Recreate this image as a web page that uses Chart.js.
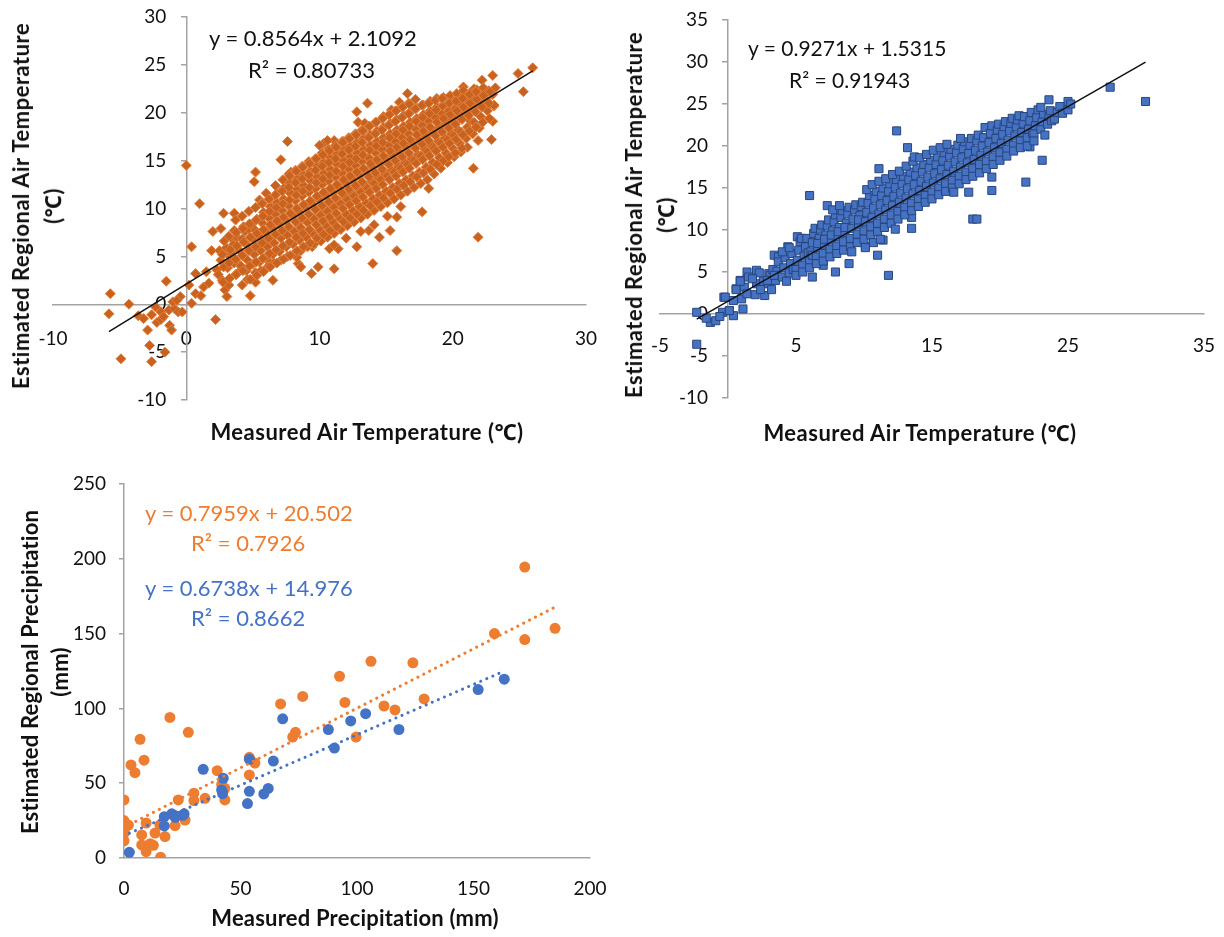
<!DOCTYPE html>
<html>
<head>
<meta charset="utf-8">
<script src="https://cdn.jsdelivr.net/npm/chart.js@4.4.1/dist/chart.umd.min.js"></script>
<style>
  body { margin: 0; background: #fff; }
  #wrap { position: relative; width: 1224px; height: 937px; overflow: hidden; font-family: Lato, 'Noto Sans', sans-serif; color: #111; }
  canvas { position: absolute; }
  .t { position: absolute; white-space: nowrap; line-height: 1; }
  .ax { font-weight: bold; font-size: 22px; letter-spacing: 0.5px; transform: translate(-50%, -50%); }
  .rot { transform: translate(-50%, -50%) rotate(-90deg); }
  .eq { font-size: 22px; transform: translateY(-50%); }
  .eq.b { font-size: 21px; }
  .small { letter-spacing: 0.2px; }
  .orange { color: #ED7D31; }
  .blue { color: #4472C4; }
</style>
</head>
<body>
<div id="wrap">
  <canvas id="chartA" width="610" height="450" style="left:0;top:0"></canvas>
  <canvas id="chartB" width="614" height="450" style="left:610px;top:0"></canvas>
  <canvas id="chartC" width="610" height="477" style="left:0;top:460px"></canvas>

  <div class="t ax rot" style="left:21px;top:206px">Estimated Regional Air Temperature</div>
  <div class="t ax rot" style="left:53px;top:206px">(℃)</div>
  <div class="t ax" style="left:367px;top:432px">Measured Air Temperature (℃)</div>
  <div class="t eq" style="left:209px;top:38px">y = 0.8564x + 2.1092</div>
  <div class="t eq" style="left:248px;top:70px">R² = 0.80733</div>

  <div class="t ax rot" style="left:634px;top:215px">Estimated Regional Air Temperature</div>
  <div class="t ax rot" style="left:666px;top:215px">(℃)</div>
  <div class="t ax" style="left:920px;top:433px">Measured Air Temperature (℃)</div>
  <div class="t eq b" style="left:748px;top:47px">y = 0.9271x + 1.5315</div>
  <div class="t eq b" style="left:789px;top:79px">R² = 0.91943</div>

  <div class="t ax rot small" style="left:30px;top:672px">Estimated Regional Precipitation</div>
  <div class="t ax rot small" style="left:60px;top:672px">(mm)</div>
  <div class="t ax small" style="left:355px;top:918px">Measured Precipitation (mm)</div>
  <div class="t eq orange" style="left:145px;top:513px">y = 0.7959x + 20.502</div>
  <div class="t eq orange" style="left:191px;top:543px">R² = 0.7926</div>
  <div class="t eq blue" style="left:145px;top:588px">y = 0.6738x + 14.976</div>
  <div class="t eq blue" style="left:191px;top:618px">R² = 0.8662</div>
</div>
<script>
// ---------- data ----------
// top-left: measured vs estimated air temperature (diamonds)
const airA = [
  [-5.7,1.1],[-5.8,-1.0],[-4.3,0],[-4.9,-5.7],[-3.6,-1.2],[-3.2,-1.5],[-2.9,-2.7],[-2.75,-4.3],[-2.6,-6.0],[-2.2,-1.9],
  [-1.9,-1.6],[-1.6,-5.0],[-1.25,-2.2],[-1.1,-2.7],[-1.5,2.4],[-2.3,-0.3],[-1.9,-0.8],[-1.3,-0.6],[-0.9,-0.45],[-0.6,-0.8],
  [-0.3,-0.8],[-1.0,0.25],[-0.45,0.8],[-2.6,-1.1],[-1.7,-1.3],[-0.7,0.4],[0,14.5],[0.4,6.0],[0.4,0.1],[0.7,1.1],
  [1.0,10.5],[0.7,3.2],[1.3,1.8],[1.7,2.2],[2.2,-1.6],[2.0,7.6],[1.9,5.6],[2.6,7.9],[2.8,9.5],[2.9,1.5],
  [3.05,0.8],[2.8,5.3],[3.6,9.5],[3.6,7.7],[3.55,6.7],[3.9,4.25],[4.2,2.0],[4.8,0.9],[5.2,2.3],[4.3,8.1],
  [5.2,13.8],[5.1,12.8],[5.5,10.9],[6.0,11.6],[7.1,15.1],[7.6,17.0],[6.5,2.5],[6.1,4.6],[7.7,12.6],[7.85,13.8],
  [8.3,13.8],[8.4,4.25],[8.6,3.9],[9.4,3.2],[9.9,3.9],[8.3,4.9],[9.45,6.0],[10.3,16.8],[11.1,17.1],[11.8,17.0],
  [11.9,16.3],[10.75,5.8],[11.1,3.7],[11.4,5.8],[12.8,20.1],[13.6,21.0],[12.9,19.0],[13.4,18.9],[14.0,4.25],[12.8,6.0],
  [13.7,7.7],[14.5,7.0],[15.3,7.7],[15.8,5.6],[15.8,9.1],[14.8,19.6],[15.4,20.3],[16.0,21.1],[16.6,22.0],[16.7,19.9],
  [17.7,9.65],[18.2,12.1],[19.0,14.7],[20.5,19.4],[21.4,21.3],[21.55,14.2],[21.9,7.0],[21.9,17.1],[22.9,17.2],[23.0,19.1],
  [23.1,20.7],[23.0,23.9],[22.2,23.4],[22.4,22.0],[24.9,24.1],[25.3,22.2],[26.0,24.7],[20.8,22.7],[21.6,22.5],[1.5,3.4],
  [0.2,2.0],[1.1,0.9],[2.3,3.6],
  [2.4,3.1],[2.6,4.6],[2.7,2.5],[2.5,5.6],[3.1,3.8],[3.0,5.9],[3.2,2.0],[3.3,4.9],
  [3.5,6.2],[3.6,4.3],[3.7,3.1],[3.4,5.3],[3.8,7.0],
  [4.0,5.6],[4.1,4.0],[4.2,6.8],[3.9,3.3],[4.3,5.0],[4.4,7.6],
  [4.5,6.3],[4.6,4.6],[4.7,7.8],[4.5,3.5],[4.8,5.7],[4.9,8.3],[4.6,2.6],
  [5.0,6.8],[5.1,5.2],[5.2,7.7],[5.0,4.2],[5.3,8.9],[5.4,6.1],[5.2,3.3],
  [5.5,7.1],[5.6,5.6],[5.7,8.5],[5.5,4.4],[5.8,9.6],[5.9,6.6],[5.6,3.5],[5.7,10.6],
  [6.0,7.5],[6.1,6.0],[6.2,9.0],[6.0,4.9],[6.3,10.2],[6.4,8.1],[6.1,3.9],[6.3,11.0],
  [6.5,7.9],[6.6,6.4],[6.7,9.4],[6.5,5.2],[6.8,10.6],[6.9,8.6],[6.6,4.3],[6.8,11.6],[6.7,12.4],
  [7.0,8.3],[7.1,6.9],[7.2,9.8],[7.0,5.5],[7.3,11.0],[7.4,8.9],[7.1,4.6],[7.3,12.1],[7.2,7.6],
  [7.5,8.7],[7.6,7.2],[7.7,10.3],[7.5,6.0],[7.8,11.6],[7.9,9.4],[7.6,5.0],[7.8,12.7],[7.7,13.6],
  [8.0,9.2],[8.1,7.6],[8.2,10.8],[8.0,6.3],[8.3,12.0],[8.4,9.8],[8.1,5.2],[8.3,13.1],[8.2,14.0],[8.4,8.4],
  [8.5,9.6],[8.6,8.0],[8.7,11.3],[8.5,6.7],[8.8,12.4],[8.9,10.3],[8.6,5.6],[8.8,13.5],[8.7,14.4],[8.9,7.3],
  [9.0,10.0],[9.1,8.5],[9.2,11.7],[9.0,7.0],[9.3,12.9],[9.4,10.7],[9.1,6.0],[9.3,13.9],[9.2,14.9],[9.4,9.1],
  [9.5,10.4],[9.6,8.9],[9.7,12.1],[9.5,7.4],[9.8,13.3],[9.9,11.2],[9.6,6.3],[9.8,14.4],[9.7,15.2],[9.9,9.5],
  [10.0,10.9],[10.1,9.3],[10.2,12.5],[10.0,7.8],[10.3,13.7],[10.4,11.6],[10.1,6.6],[10.3,14.8],[10.2,15.8],[10.4,9.9],[10.0,16.6],
  [10.5,11.3],[10.6,9.7],[10.7,12.9],[10.5,8.2],[10.8,14.1],[10.9,12.0],[10.6,7.0],[10.8,15.3],[10.7,16.2],[10.9,10.4],[10.6,17.1],
  [11.0,11.7],[11.1,10.1],[11.2,13.3],[11.0,8.6],[11.3,14.6],[11.4,12.4],[11.1,7.4],[11.3,15.7],[11.2,16.6],[11.4,10.8],[11.1,6.2],
  [11.5,12.1],[11.6,10.5],[11.7,13.7],[11.5,9.0],[11.8,15.0],[11.9,12.8],[11.6,7.8],[11.8,16.1],[11.7,17.0],[11.9,11.2],
  [12.0,12.6],[12.1,10.9],[12.2,14.1],[12.0,9.4],[12.3,15.4],[12.4,13.2],[12.1,8.2],[12.3,16.5],[12.2,17.4],[12.4,11.6],[12.0,6.9],
  [12.5,13.0],[12.6,11.3],[12.7,14.5],[12.5,9.8],[12.8,15.8],[12.9,13.6],[12.6,8.6],[12.8,16.9],[12.7,17.8],[12.9,12.0],
  [13.0,13.4],[13.1,11.7],[13.2,14.9],[13.0,10.2],[13.3,16.2],[13.4,14.0],[13.1,9.0],[13.3,17.3],[13.2,18.2],[13.4,12.4],[13.1,7.6],
  [13.5,13.8],[13.6,12.1],[13.7,15.3],[13.5,10.6],[13.8,16.6],[13.9,14.4],[13.6,9.4],[13.8,17.7],[13.7,18.6],[13.9,12.8],
  [14.0,14.3],[14.1,12.6],[14.2,15.8],[14.0,11.0],[14.3,17.0],[14.4,14.8],[14.1,9.8],[14.3,18.1],[14.2,19.0],[14.4,13.2],[14.1,8.3],
  [14.5,14.7],[14.6,13.0],[14.7,16.2],[14.5,11.4],[14.8,17.4],[14.9,15.2],[14.6,10.2],[14.8,18.5],[14.7,19.4],[14.9,13.6],
  [15.0,15.1],[15.1,13.4],[15.2,16.6],[15.0,11.8],[15.3,17.8],[15.4,15.6],[15.1,10.6],[15.3,18.9],[15.2,19.8],[15.4,14.0],[15.1,9.2],
  [15.5,15.5],[15.6,13.8],[15.7,17.0],[15.5,12.2],[15.8,18.2],[15.9,16.0],[15.6,11.0],[15.8,19.3],[15.7,20.2],[15.9,14.4],
  [16.0,15.9],[16.1,14.2],[16.2,17.4],[16.0,12.6],[16.3,18.6],[16.4,16.4],[16.1,11.4],[16.3,19.7],[16.2,20.6],[16.4,14.8],[16.1,10.2],
  [16.5,16.4],[16.6,14.6],[16.7,17.8],[16.5,13.0],[16.8,19.0],[16.9,16.8],[16.6,11.8],[16.8,20.1],[16.7,21.0],[16.9,15.2],
  [17.0,16.8],[17.1,15.0],[17.2,18.3],[17.0,13.4],[17.3,19.4],[17.4,17.2],[17.1,12.2],[17.3,20.5],[17.2,21.4],[17.4,15.6],
  [17.5,17.2],[17.6,15.5],[17.7,18.7],[17.5,13.8],[17.8,19.8],[17.9,17.6],[17.6,12.6],[17.8,20.8],[17.9,16.2],
  [18.0,17.6],[18.1,15.9],[18.2,19.1],[18.0,14.3],[18.3,20.2],[18.4,18.0],[18.1,13.0],[18.3,21.2],[18.4,16.6],
  [18.5,18.0],[18.6,16.3],[18.7,19.5],[18.5,14.8],[18.8,20.6],[18.9,18.4],[18.6,13.6],[18.8,21.5],[18.9,17.0],
  [19.0,18.5],[19.1,16.8],[19.2,19.9],[19.0,15.3],[19.3,20.9],[19.4,18.8],[19.1,14.2],[19.3,21.6],[19.4,17.4],
  [19.5,18.9],[19.6,17.2],[19.7,20.2],[19.5,15.8],[19.8,21.2],[19.9,19.2],[19.6,14.8],[19.8,21.8],[19.9,17.8],
  [20.0,19.3],[20.1,17.6],[20.2,20.5],[20.0,16.3],[20.3,21.5],[20.4,19.6],[20.1,15.4],[20.3,22.0],[20.4,18.2],
  [20.5,19.8],[20.6,18.0],[20.7,20.8],[20.5,16.8],[20.8,21.8],[20.9,20.0],[20.6,15.9],[20.8,22.3],
  [21.0,20.2],[21.1,18.5],[21.2,21.1],[21.0,17.3],[21.3,22.1],[21.4,20.4],[21.1,16.4],[21.3,19.2],
  [21.5,20.6],[21.6,19.0],[21.7,21.5],[21.5,17.8],[21.8,22.4],[21.9,20.8],
  [22.0,21.0],[22.1,19.6],[22.2,21.9],[22.0,18.4],[22.3,22.6],[22.4,21.2],
  [22.5,21.4],[22.6,20.2],[22.7,22.3],[22.8,20.9],[23.0,21.9],[23.1,20.8],[23.2,22.6],
  [2.75,2.3],[2.8,3.9],[2.7,5.2],[2.85,6.6],[3.25,2.7],[3.2,4.3],[3.3,5.7],[3.2,7.1],
  [3.75,3.1],[3.7,4.7],[3.8,6.1],[3.75,7.5],[3.7,8.8],[4.25,3.5],[4.2,5.1],[4.3,6.5],[4.25,7.9],[4.2,9.2],
  [4.75,4.0],[4.7,5.6],[4.8,7.0],[4.75,8.4],[4.7,9.7],[4.8,2.6],[5.25,4.4],[5.2,6.0],[5.3,7.4],[5.25,8.8],[5.2,10.1],[5.3,3.0],
  [5.75,4.8],[5.7,6.4],[5.8,7.8],[5.75,9.2],[5.7,10.5],[5.8,3.4],[6.25,5.3],[6.2,6.9],[6.3,8.3],[6.25,9.7],[6.2,11.0],[6.3,3.9],
  [6.75,5.7],[6.7,7.3],[6.8,8.7],[6.75,10.1],[6.7,11.4],[6.8,4.3],
  [7.25,6.1],[7.2,7.7],[7.3,9.1],[7.25,10.5],[7.2,11.8],[7.3,4.7],[7.25,13.0],
  [7.75,6.5],[7.7,8.1],[7.8,9.5],[7.75,10.9],[7.7,12.2],[7.8,5.1],[7.75,13.4],
  [8.25,7.0],[8.2,8.6],[8.3,10.0],[8.25,11.4],[8.2,12.7],[8.3,5.6],[8.25,13.9],
  [8.75,7.4],[8.7,9.0],[8.8,10.4],[8.75,11.8],[8.7,13.1],[8.8,6.0],[8.75,14.3],
  [9.25,7.8],[9.2,9.4],[9.3,10.8],[9.25,12.2],[9.2,13.5],[9.3,6.4],[9.25,14.7],
  [9.75,8.3],[9.7,9.9],[9.8,11.3],[9.75,12.7],[9.7,14.0],[9.8,6.9],[9.75,15.2],
  [10.25,8.7],[10.2,10.3],[10.3,11.7],[10.25,13.1],[10.2,14.4],[10.3,7.3],[10.25,15.6],
  [10.75,9.1],[10.7,10.7],[10.8,12.1],[10.75,13.5],[10.7,14.8],[10.8,7.7],[10.75,16.0],
  [11.25,9.5],[11.2,11.1],[11.3,12.5],[11.25,13.9],[11.2,15.2],[11.3,8.1],[11.25,16.4],
  [11.75,10.0],[11.7,11.6],[11.8,13.0],[11.75,14.4],[11.7,15.7],[11.8,8.6],[11.75,16.9],
  [12.25,10.4],[12.2,12.0],[12.3,13.4],[12.25,14.8],[12.2,16.1],[12.3,9.0],[12.25,17.3],
  [12.75,10.8],[12.7,12.4],[12.8,13.8],[12.75,15.2],[12.7,16.5],[12.8,9.4],[12.75,17.7],
  [13.25,11.2],[13.2,12.8],[13.3,14.2],[13.25,15.6],[13.2,16.9],[13.3,9.8],[13.25,18.1],
  [13.75,11.7],[13.7,13.3],[13.8,14.7],[13.75,16.1],[13.7,17.4],[13.8,10.3],[13.75,18.6],
  [14.25,12.1],[14.2,13.7],[14.3,15.1],[14.25,16.5],[14.2,17.8],[14.3,10.7],[14.25,19.0],
  [14.75,12.5],[14.7,14.1],[14.8,15.5],[14.75,16.9],[14.7,18.2],[14.8,11.1],[14.75,19.4],
  [15.25,13.0],[15.2,14.6],[15.3,16.0],[15.25,17.4],[15.2,18.7],[15.3,11.6],[15.25,19.8],
  [15.75,13.4],[15.7,15.0],[15.8,16.4],[15.75,17.8],[15.7,19.1],[15.8,12.0],[15.75,20.2],
  [16.25,13.8],[16.2,15.4],[16.3,16.8],[16.25,18.2],[16.2,19.5],[16.3,12.4],[16.25,20.6],
  [16.75,14.2],[16.7,15.8],[16.8,17.2],[16.75,18.6],[16.7,19.9],[16.8,12.8],[16.75,20.9],
  [17.25,14.7],[17.2,16.3],[17.3,17.7],[17.25,19.1],[17.2,20.4],[17.3,13.3],
  [17.75,15.1],[17.7,16.7],[17.8,18.1],[17.75,19.5],[17.7,20.8],[17.8,13.7],
  [18.25,15.5],[18.2,17.1],[18.3,18.5],[18.25,19.9],[18.2,21.0],[18.3,14.1],
  [18.75,16.0],[18.7,17.6],[18.8,19.0],[18.75,20.3],[18.7,21.3],[18.8,14.6],
  [19.25,16.4],[19.2,18.0],[19.3,19.4],[19.25,20.7],[19.2,21.5],[19.3,15.0],
  [19.75,16.8],[19.7,18.4],[19.8,19.8],[19.75,21.0],[19.7,15.4],
  [20.25,17.2],[20.2,18.8],[20.3,20.2],[20.25,21.2],[20.2,15.8],
  [20.75,17.7],[20.7,19.3],[20.8,20.6],[20.75,21.5],[20.7,16.3],
  [21.25,18.1],[21.2,19.7],[21.3,21.0],[21.25,21.9],[21.75,18.5],[21.7,20.1],[21.8,21.4],[21.75,22.2],
  [22.25,19.0],[22.2,20.6],[22.3,21.8],[22.75,19.4],[22.7,21.0],[22.8,22.2]
];
const trendA = [0.8564, 2.1092];

// top-right: measured vs estimated air temperature (squares)
const airB = [
  [-2.3,0.2],[-2.3,-3.6],[-1.3,-1.0],[-0.9,-0.8],[-0.4,0.2],[0.1,0.4],[1.1,0.6],[-0.3,2.0],[0.6,3.0],[0.9,4.0],
  [1.4,5.0],[2.1,5.2],[2.7,2.2],[3.0,4.8],[3.4,7.0],[3.7,6.8],[4.4,8.0],[5.1,9.2],[6.0,14.1],[6.2,4.4],
  [7.0,5.8],[7.9,5.0],[7.3,12.9],[8.9,6.0],[10.1,8.0],[11.0,7.0],[11.1,17.3],[11.4,8.8],[11.8,4.6],[12.4,21.8],
  [13.2,19.8],[13.5,10.2],[13.5,11.5],[17.7,14.5],[18.0,11.3],[18.3,11.3],[19.4,14.7],[19.4,16.3],[21.9,15.7],[23.1,18.3],
  [25.0,25.3],[23.6,25.5],[28.1,27.0],[30.7,25.3],[22.2,19.9],[-1.6,-0.5],[-0.6,-0.3],[0.4,-0.2],
  [0.1,0.4],[0.4,1.6],[0.6,2.9],[-0.2,2.0],[1.0,1.8],[1.2,3.2],[1.4,2.4],[0.9,3.9],[1.5,4.4],
  [2.0,2.3],[2.1,3.6],[2.3,4.9],[2.4,2.9],[1.8,4.2],[2.6,3.9],[3.0,3.6],[3.1,4.6],[3.3,5.3],[3.2,2.9],[2.9,4.0],
  [3.5,4.0],[3.6,5.1],[3.7,6.2],[3.4,4.6],[4.0,4.4],[4.1,5.5],[4.2,6.7],[4.3,3.9],[4.0,7.4],
  [4.5,4.9],[4.6,6.0],[4.7,7.2],[4.8,5.3],[4.5,7.9],[5.0,5.3],[5.1,6.4],[5.2,7.6],[5.3,8.6],[5.0,4.6],[5.4,9.0],
  [5.5,5.8],[5.6,6.9],[5.7,8.0],[5.8,9.0],[5.5,5.0],[5.9,7.3],
  [6.0,6.3],[6.1,7.4],[6.2,8.5],[6.3,9.6],[6.0,5.5],[6.4,10.2],[6.2,7.0],
  [6.5,6.8],[6.6,7.9],[6.7,9.0],[6.8,10.1],[6.5,6.0],[6.9,10.6],[6.6,8.4],
  [7.0,7.2],[7.1,8.3],[7.2,9.4],[7.3,10.5],[7.0,6.3],[7.4,11.2],[7.1,8.9],
  [7.5,7.7],[7.6,8.8],[7.7,9.9],[7.8,11.0],[7.5,6.8],[7.9,11.8],[7.6,9.4],[7.7,12.4],
  [8.0,8.1],[8.1,9.2],[8.2,10.3],[8.3,11.5],[8.0,7.2],[8.4,12.3],[8.1,9.8],[8.2,12.9],
  [8.5,8.6],[8.6,9.7],[8.7,10.8],[8.8,11.9],[8.5,7.6],[8.9,12.7],[8.6,10.3],
  [9.0,9.0],[9.1,10.2],[9.2,11.3],[9.3,12.4],[9.0,8.0],[9.4,13.0],[9.1,7.4],
  [9.5,9.5],[9.6,10.6],[9.7,11.7],[9.8,12.8],[9.5,8.5],[9.9,13.3],[9.6,11.2],
  [10.0,9.9],[10.1,11.0],[10.2,12.1],[10.3,13.2],[10.0,8.9],[10.4,14.1],[10.1,7.9],[10.2,14.8],
  [10.5,10.4],[10.6,11.5],[10.7,12.6],[10.8,13.7],[10.5,9.4],[10.9,14.6],[10.6,15.4],[10.7,8.5],
  [11.0,10.8],[11.1,11.9],[11.2,13.0],[11.3,14.1],[11.0,9.8],[11.4,15.0],[11.1,15.8],[11.2,8.9],
  [11.5,11.3],[11.6,12.4],[11.7,13.5],[11.8,14.6],[11.5,10.3],[11.9,15.5],[11.6,16.1],
  [12.0,11.8],[12.1,12.9],[12.2,14.0],[12.3,15.1],[12.0,10.8],[12.4,16.0],[12.1,16.6],[12.3,10.1],
  [12.5,12.2],[12.6,13.3],[12.7,14.4],[12.8,15.5],[12.5,11.3],[12.9,16.4],[12.6,17.0],
  [13.0,12.7],[13.1,13.8],[13.2,14.9],[13.3,16.0],[13.0,11.8],[13.4,16.9],[13.1,17.6],
  [13.5,13.2],[13.6,14.3],[13.7,15.4],[13.8,16.5],[13.5,12.3],[13.9,17.4],[13.6,18.2],[13.7,18.7],
  [14.0,13.6],[14.1,14.7],[14.2,15.8],[14.3,16.9],[14.0,12.8],[14.4,17.8],[14.1,18.6],
  [14.5,14.1],[14.6,15.2],[14.7,16.3],[14.8,17.4],[14.5,13.3],[14.9,18.3],[14.6,19.0],
  [15.0,14.5],[15.1,15.6],[15.2,16.7],[15.3,17.8],[15.0,13.7],[15.4,18.7],[15.1,19.5],
  [15.5,15.0],[15.6,16.1],[15.7,17.2],[15.8,18.3],[15.5,14.2],[15.9,19.2],[15.6,19.8],
  [16.0,15.5],[16.1,16.6],[16.2,17.7],[16.3,18.8],[16.0,14.6],[16.4,19.6],[16.1,20.2],
  [16.5,15.9],[16.6,17.0],[16.7,18.1],[16.8,19.2],[16.5,15.0],[16.9,20.1],[16.6,14.5],
  [17.0,16.4],[17.1,17.5],[17.2,18.6],[17.3,19.7],[17.0,15.5],[17.4,20.5],[17.1,20.9],
  [17.5,16.9],[17.6,18.0],[17.7,19.1],[17.8,20.1],[17.5,16.0],[17.9,20.9],
  [18.0,17.3],[18.1,18.4],[18.2,19.5],[18.3,20.6],[18.0,16.4],[18.4,21.3],
  [18.5,17.8],[18.6,18.9],[18.7,20.0],[18.8,21.0],[18.5,16.8],[18.9,22.2],
  [19.0,18.2],[19.1,19.3],[19.2,20.4],[19.3,21.5],[19.0,17.3],[19.4,22.4],
  [19.5,18.7],[19.6,19.8],[19.7,20.9],[19.8,21.9],[19.5,17.8],[19.9,22.6],
  [20.0,19.2],[20.1,20.3],[20.2,21.4],[20.3,22.3],[20.0,18.3],[20.4,22.9],
  [20.5,19.6],[20.6,20.7],[20.7,21.8],[20.8,22.7],[20.5,18.8],[20.9,23.3],
  [21.0,20.1],[21.1,21.2],[21.2,22.3],[21.3,23.1],[21.0,19.4],[21.4,23.6],
  [21.5,20.6],[21.6,21.6],[21.7,22.7],[21.8,23.5],[21.5,19.8],
  [22.0,21.0],[22.1,22.0],[22.2,23.0],[22.3,24.0],[22.0,20.0],[22.4,21.5],
  [22.5,21.5],[22.6,22.4],[22.7,23.4],[22.8,24.3],[22.5,20.6],
  [23.0,22.0],[23.1,22.9],[23.2,23.8],[23.3,21.3],[23.0,24.6],
  [23.5,22.6],[23.6,23.5],[23.7,24.2],[23.8,23.0],[24.0,23.2],[24.2,24.0],[24.4,24.7],[24.6,23.9],[25.0,24.3],[25.2,25.0]
];
const trendB = [0.9271, 1.5315];

// bottom: measured vs estimated precipitation
const precipOrange = [
  [0,38.8],[0,25],[1.9,22],[0.2,17],[0,11.5],[3,62.2],[4.7,57],[6.9,79.3],[8.6,65.4],[7.6,15.4],
  [7.6,8.7],[9.5,4.2],[9.5,23.4],[11.2,9.6],[12.6,8.5],[13.3,16.7],[15.4,22.1],[15.7,0.5],[17.6,14.3],[19.7,94],
  [21.9,21.6],[23.3,38.8],[26.2,25.4],[27.6,84],[30,43.3],[30,38.4],[34.8,39.9],[40,58.4],[41.9,49],[43.3,46.6],
  [43.3,38.8],[53.8,67.3],[53.8,55.5],[56.2,63.5],[67.2,103],[72.4,80.8],[73.6,84],[76.7,108],[92.5,121.5],[94.8,104],
  [99.6,80.8],[106,131.5],[111.6,101.6],[116.3,99],[124,130.5],[128.8,106.3],[159,150],[172,194.5],[172,146],[185,153.5]
];
const precipBlue = [
  [2.3,3.8],[17.3,21.4],[17.3,27.6],[20.5,29.5],[21.5,28.5],[22,27.2],[25.2,28.5],[25.8,29.5],[34,59.3],[42.6,53.3],
  [41.9,45.4],[42.3,43],[53.8,66],[53.8,44.6],[53,36.4],[60,42.8],[61.9,46.5],[64.1,64.8],[68.1,93],[87.7,85.9],
  [90.3,73.5],[97.3,91.6],[103.7,96.5],[118,85.9],[152,112.6],[163.2,119.5]
];
const trendOrange = [0.7959, 20.502];
const trendBlue = [0.6738, 14.976];

// tick values
const ticksAx = [-10, 0, 10, 20, 30];
const ticksAy = [-10, -5, 0, 5, 10, 15, 20, 25, 30];
const ticksBx = [-5, 5, 15, 25, 35];
const ticksBy = [-10, -5, 0, 5, 10, 15, 20, 25, 30, 35];
const ticksCx = [0, 50, 100, 150, 200];
const ticksCy = [0, 50, 100, 150, 200, 250];

// ---------- helpers ----------
const FONT = "Lato, 'Noto Sans', sans-serif";
const AXIS = '#a3a3a3';
const toXY = (pts) => pts.map(([x, y]) => ({ x, y }));

function trendSeg(pts, coef) {
  const xs = pts.map(p => p[0]);
  const x0 = Math.min(...xs), x1 = Math.max(...xs);
  return [{ x: x0, y: coef[0] * x0 + coef[1] }, { x: x1, y: coef[0] * x1 + coef[1] }];
}

// size = fixed box thickness of the axis (0 for axes crossing inside the plot)
function axis(min, max, vals, isX, position, pad, size) {
  return {
    type: 'linear', min, max, position,
    afterBuildTicks: (s) => { s.ticks = vals.map(v => ({ value: v })); },
    afterFit: (s) => {
      if (isX) { s.height = size; s.paddingLeft = 0; s.paddingRight = 0; }
      else { s.width = size; s.paddingTop = 0; s.paddingBottom = 0; }
    },
    border: { display: true, color: AXIS, width: 1.5 },
    grid: { drawOnChartArea: false, drawTicks: !isX, tickLength: 5, color: AXIS, lineWidth: 1.5 },
    ticks: { color: '#111', font: { family: FONT, size: 19 }, padding: pad, autoSkip: false, maxRotation: 0 }
  };
}

// y labels of an axis crossing at x = 0 sit a fixed gap left of it
const yLabelGap = {
  id: 'yLabelGap',
  beforeDraw(chart, args, opts) {
    if (!opts.gap) return;
    const px = chart.scales.x.getPixelForValue(0);
    chart.scales.y.getLabelItems().forEach(it => { it.options.translation[0] = px - opts.gap; });
  }
};

function baseOptions(padding, gap) {
  return {
    responsive: false,
    animation: false,
    devicePixelRatio: 1,
    layout: { padding },
    plugins: { legend: { display: false }, tooltip: { enabled: false }, yLabelGap: { gap } }
  };
}

// ---------- top-left ----------
new Chart(document.getElementById('chartA'), {
  type: 'scatter',
  data: {
    datasets: [
      { type: 'line', data: trendSeg(airA, trendA), borderColor: '#111', borderWidth: 1.5, pointRadius: 0, order: 0 },
      { data: toXY(airA), pointStyle: 'rectRot', pointRadius: 5, backgroundColor: 'rgb(200,98,30)',
        borderColor: 'rgb(224,130,66)', borderWidth: 1, order: 1 }
    ]
  },
  options: Object.assign(baseOptions({ left: 53, right: 24, top: 17, bottom: 50 }, 20), {
    scales: {
      x: axis(-10, 30, ticksAx, true, { y: 0 }, 23, 0),
      y: axis(-10, 30, ticksAy, false, { x: 0 }, 10, 0)
    }
  }),
  plugins: [yLabelGap]
});

// ---------- top-right ----------
new Chart(document.getElementById('chartB'), {
  type: 'scatter',
  data: {
    datasets: [
      { type: 'line', data: trendSeg(airB, trendB), borderColor: '#111', borderWidth: 1.5, pointRadius: 0, order: 0 },
      { data: toXY(airB), pointStyle: 'rect', pointRadius: 5.7, backgroundColor: 'rgb(70,114,196)',
        borderColor: 'rgb(40,70,125)', borderWidth: 1, order: 1 }
    ]
  },
  options: Object.assign(baseOptions({ left: 50, right: 20, top: 20, bottom: 52 }, 20), {
    scales: {
      x: axis(-5, 35, ticksBx, true, { y: 0 }, 20, 0),
      y: axis(-10, 35, ticksBy, false, { x: 0 }, 10, 0)
    }
  }),
  plugins: [yLabelGap]
});

// ---------- bottom ----------
const dotted = { type: 'line', borderWidth: 3, borderDash: [0.1, 6.5], borderCapStyle: 'round', pointRadius: 0 };
new Chart(document.getElementById('chartC'), {
  type: 'scatter',
  data: {
    datasets: [
      Object.assign({ data: trendSeg(precipBlue, trendBlue), borderColor: '#4472C4', order: 0 }, dotted),
      Object.assign({ data: trendSeg(precipOrange, trendOrange), borderColor: '#ED7D31', order: 1 }, dotted),
      { data: toXY(precipBlue), pointRadius: 5.5, backgroundColor: '#4472C4', borderColor: '#4472C4', borderWidth: 0, order: 2 },
      { data: toXY(precipOrange), pointRadius: 5.5, backgroundColor: '#ED7D31', borderColor: '#ED7D31', borderWidth: 0, order: 3 }
    ]
  },
  options: Object.assign(baseOptions({ left: 0, right: 20, top: 24, bottom: 0 }, 0), {
    scales: {
      x: axis(0, 200, ticksCx, true, 'bottom', 19, 79),
      y: axis(0, 250, ticksCy, false, 'left', 13, 124)
    }
  })
});
</script>
</body>
</html>
